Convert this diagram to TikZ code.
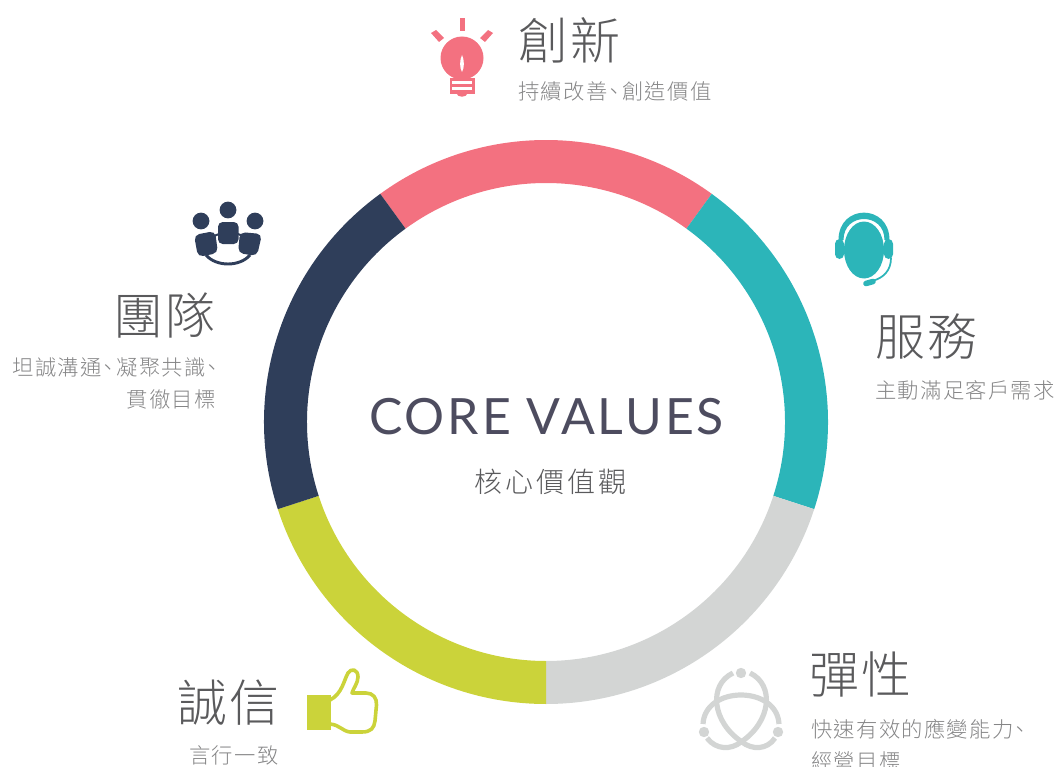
\documentclass[tikz,border=0pt]{standalone}
\usepackage{fontspec}
\setmainfont{Lato}
\newfontfamily\cjk[LetterSpace=4]{Noto Sans CJK TC Light}
\newfontfamily\cjksub[LetterSpace=6]{Noto Sans CJK TC Light}
\newfontfamily\cjkcore[LetterSpace=10]{Noto Sans CJK TC Light}
\newfontfamily\corefont[LetterSpace=6]{Lato}
\definecolor{cpink}{HTML}{F37180}
\definecolor{cteal}{HTML}{2CB5B9}
\definecolor{cgray}{HTML}{D3D5D4}
\definecolor{colive}{HTML}{CBD33A}
\definecolor{cnavy}{HTML}{2F3E5A}
\definecolor{ctitle}{HTML}{5A5A5C}
\definecolor{csub}{HTML}{858586}
\definecolor{ccore}{HTML}{4D4C5F}
\newcommand{\dunhao}{\kern-0.2em 、\kern-0.1em}
\newcommand{\ringseg}[3]{\fill[#1] ([shift={(#2:282)}]546,422) arc[start angle=#2,end angle=#3,radius=282] -- ([shift={(#3:239)}]546,422) arc[start angle=#3,end angle=#2,radius=239] -- cycle;}
\tikzset{
  x=0.75pt,y=-0.75pt,
  titletext/.style={inner sep=0pt,text=ctitle,font=\cjk\fontsize{37.5pt}{44pt}\selectfont},
  subtext/.style={inner sep=0pt,text=csub,font=\cjksub\fontsize{16pt}{24pt}\selectfont},
}
\begin{document}
\begin{tikzpicture}
\useasboundingbox (0,0) rectangle (1058,767);
% ring: angles run clockwise on screen because y is flipped
\ringseg{cpink}{-126}{-54}
\ringseg{cteal}{-54}{18}
\ringseg{cgray}{18}{90}
\ringseg{colive}{90}{162}
\ringseg{cnavy}{162}{234}
% centre
\node[inner sep=0pt,text=ccore,font=\corefont\fontsize{37.5pt}{44pt}\selectfont] (core) at (546.5,417) {CORE VALUES};
\node[subtext,font=\cjkcore\fontsize{21pt}{26pt}\selectfont,text=ctitle] (corezh) at (550.5,482) {核心價值觀};
% labels
\node[titletext,anchor=west] (t1) at (518,40) {創新};
\node[subtext,anchor=west] (s1) at (518,91) {持續改善\dunhao 創造價值};
\node[titletext,anchor=west] (t2) at (875,337) {服務};
\node[subtext,anchor=west] (s2) at (875,390) {主動滿足客戶需求};
\node[titletext,anchor=west] (t3) at (809,674) {彈性};
\node[subtext,anchor=west] (s3) at (811,729) {快速有效的應變能力\dunhao};
\node[subtext,anchor=west] (s3b) at (811,761) {經營目標};
\node[titletext,anchor=west] (t4) at (177,703) {誠信};
\node[subtext,anchor=west] (s4) at (189,755) {言行一致};
\node[titletext,anchor=east] (t5) at (216,315) {團隊};
\node[subtext,anchor=east] (s5) at (221,367) {坦誠溝通\dunhao 凝聚共識\dunhao};
\node[subtext,anchor=east] (s5b) at (216,399) {貫徹目標};
% bulb icon
\begin{scope}[cpink]
\fill (459.5,18) rectangle (465,31);
\fill (431,33) -- (436,30) -- (444,38) -- (439,42) -- cycle;
\fill (493,33) -- (488,30) -- (480,38) -- (485,42) -- cycle;
\fill (462,58) circle[radius=21.5];
\fill (450,78) rectangle (474.5,94);
\fill (456,93) .. controls (458,98) and (466,98) .. (468,93) -- cycle;
\fill[white] (462,55) .. controls (459.5,60) and (459.5,68) .. (462,72) .. controls (464.5,68) and (464.5,60) .. (462,55) -- cycle;
\fill[white] (452,81.5) rectangle (472,84.5);
\fill[white] (452,87) rectangle (472,90);
\end{scope}
% team icon
\begin{scope}[cnavy]
\fill (228,210) circle[radius=8.4];
\fill (201,221) circle[radius=8.4];
\fill (255,221) circle[radius=8.4];
\fill[rounded corners=3.5] (218,222) rectangle (238.5,244);
\fill[rounded corners=4] (194,235) -- (215,231) -- (218,253) -- (198,257) -- cycle;
\fill[rounded corners=4] (240,232) -- (262,234) -- (257,256) -- (238,253) -- cycle;
\draw[line width=2.2] (206,255) .. controls (216,267) and (240,267) .. (250,255);
\draw[line width=1.5] (214,236) -- (219,234);
\draw[line width=1.5] (238,234) -- (243,236);
\end{scope}
% headset icon
\begin{scope}[cteal]
\fill (864,250) ellipse[x radius=20,y radius=28.5];
\fill (838.5,240) .. controls (838.5,203.5) and (889.5,203.5) .. (889.5,240) -- (884.5,240) .. controls (884.5,212) and (843.5,212) .. (843.5,240) -- cycle;
\fill[rounded corners=3.5] (835,239) rectangle (844,259);
\fill[rounded corners=3.5] (884,239) rectangle (893,259);
\draw[line width=1.3] (891,258) .. controls (891,270) and (884,278) .. (872,281);
\draw[line width=4.2,line cap=round] (866,283.5) -- (873,281.5);
\end{scope}
% triquetra icon
\begin{scope}[cgray,line width=3.9]
\draw (733,673) .. controls (708,685) and (712,722) .. (742,742) .. controls (752,750) and (767,750) .. (775,738);
\draw (750,673) .. controls (775,685) and (771,722) .. (741,742) .. controls (731,750) and (716,750) .. (707,738);
\draw (703,724) .. controls (704,705) and (722,695) .. (741,695) .. controls (760,695) and (778,705) .. (779,724);
\fill (741,673) circle[radius=5.2];
\fill (704,732) circle[radius=5.2];
\fill (778,732) circle[radius=5.2];
\end{scope}
% thumb icon
\begin{scope}[colive]
\fill (307,695) rectangle (330.5,729.5);
\draw[line width=2.7,line join=round] (330,700) .. controls (342,694) and (344,680) .. (348,673) .. controls (351,668) and (358,669) .. (358,677) .. controls (358,683) and (353,689) .. (352,693) -- (366,693) .. controls (373,693) and (377,698) .. (376.5,705) -- (375,721) .. controls (374,728) and (371,732) .. (362,732) -- (350,732) .. controls (342,731) and (340,725) .. (330,724);
\end{scope}
\end{tikzpicture}
\end{document}
